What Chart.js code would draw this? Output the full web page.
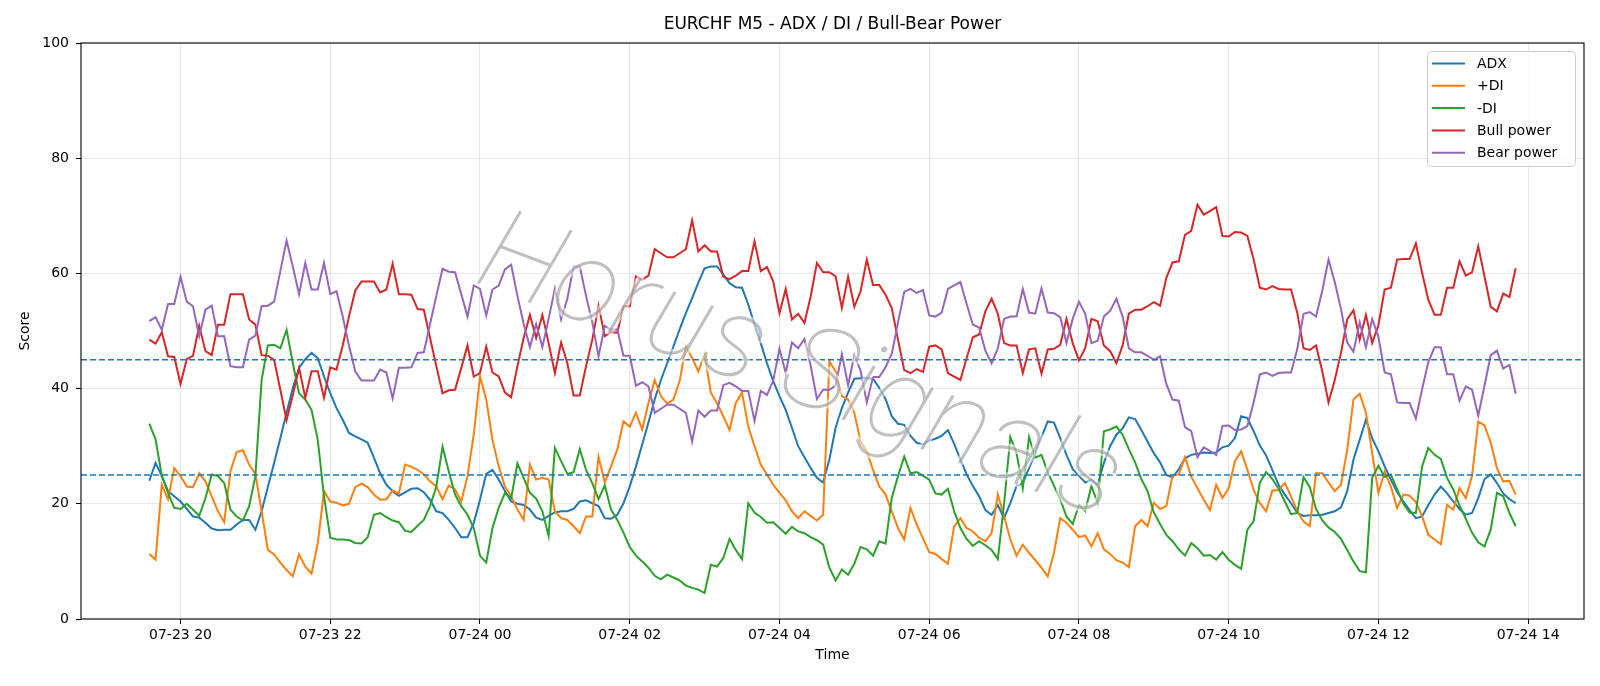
<!DOCTYPE html>
<html>
<head>
<meta charset="utf-8">
<title>EURCHF M5 - ADX / DI / Bull-Bear Power</title>
<script src="https://cdn.jsdelivr.net/npm/chart.js@4.4.1/dist/chart.umd.min.js"></script>
<style>
  html, body { margin: 0; padding: 0; background: #fff; }
  #wrap { width: 1600px; height: 686px; }
</style>
</head>
<body>
<div id="wrap"><canvas id="chart" width="1600" height="686"></canvas></div>
<script>
// 5-minute bars, 07-23 19:35 -> 07-24 13:50 (x in minutes from 07-23 20:00)
const startMinute = -25;
const stepMinutes = 5;

const tickMinutes = [0, 120, 240, 360, 480, 600, 720, 840, 960, 1080];
const tickLabels = ['07-23 20', '07-23 22', '07-24 00', '07-24 02', '07-24 04',
                    '07-24 06', '07-24 08', '07-24 10', '07-24 12', '07-24 14'];

const refLevels = [25, 45];

const adx = [
  24.0, 27.1, 24.8, 22.2, 21.3, 20.4, 19.1, 17.8, 17.6, 16.7, 15.7, 15.4, 15.5, 15.5, 16.4, 17.2, 17.2, 15.5, 18.7, 22.9, 27.1, 31.4, 35.8, 40.1, 43.6, 45.1, 46.2, 45.3, 42.1, 39.2, 36.6,
  34.6, 32.3, 31.7, 31.2, 30.6, 28.0, 25.3, 23.3, 22.2, 21.4, 22.0, 22.6, 22.7, 22.0, 20.7, 18.7, 18.4, 17.2, 15.8, 14.2, 14.2, 16.7, 20.7, 25.2, 25.9, 24.2, 22.2, 20.4, 20.0, 19.8, 19.0, 17.6,
  17.2, 17.9, 18.5, 18.7, 18.7, 19.1, 20.4, 20.6, 20.1, 19.6, 17.5, 17.4, 18.1, 20.1, 23.0, 26.5, 30.3, 34.1, 38.1, 41.5, 44.4, 47.3, 50.3, 53.1, 55.7, 58.4, 60.9, 61.2, 61.2, 59.8, 58.3,
  57.6, 57.5, 54.6, 51.1, 47.9, 44.4, 41.3, 38.7, 36.3, 33.2, 30.0, 28.1, 26.2, 24.5, 23.7, 27.7, 33.2, 36.6, 39.3, 41.7, 41.8, 41.8, 41.7, 40.1, 38.2, 35.2, 33.9, 33.7, 31.8, 30.6, 30.3,
  31.0, 31.3, 31.8, 32.8, 30.4, 27.7, 25.1, 23.1, 21.3, 18.9, 18.1, 19.8, 17.5, 20.1, 23.1, 23.6, 26.2, 28.8, 31.6, 34.3, 34.1, 31.4, 28.5, 26.0, 24.9, 23.7, 24.2, 23.3, 27.1, 30.0, 32.0, 33.1,
  35.0, 34.7, 32.8, 30.8, 28.8, 27.2, 25.0, 24.6, 26.0, 27.9, 28.5, 28.7, 28.9, 28.8, 28.9, 29.8, 30.1, 31.4, 35.2, 34.9, 32.6, 30.1, 28.4, 25.9, 23.3, 21.6, 20.1, 18.4, 17.9, 18.0, 18.0,
  18.1, 18.4, 18.7, 19.4, 22.2, 27.7, 31.1, 34.6, 31.4, 29.1, 26.5, 24.2, 22.0, 20.4, 18.9, 17.5, 17.8, 19.8, 21.6, 23.0, 21.8, 20.4, 19.1, 18.1, 18.4, 21.0, 24.3, 25.1, 23.6, 21.8, 20.8, 20.1
];

const plusDI = [
  11.3, 10.3, 23.3, 20.8, 26.2, 24.8, 23.0, 22.9, 25.3, 23.9, 21.3, 18.7, 16.8, 25.6, 29.0, 29.3, 26.8, 25.2, 18.7, 12.0, 11.2, 9.8, 8.5, 7.4, 11.2, 9.1, 7.9, 13.2, 22.2, 20.4, 20.2,
  19.7, 20.0, 22.9, 23.5, 22.9, 21.6, 20.7, 20.8, 22.3, 21.8, 26.8, 26.4, 25.9, 25.1, 23.9, 23.0, 20.8, 23.2, 22.5, 20.4, 24.8, 32.0, 42.1, 38.1, 31.1, 26.5, 23.0, 21.3, 19.0, 17.2, 26.8, 24.2,
  24.5, 24.2, 18.7, 17.5, 17.2, 16.1, 14.9, 17.8, 17.8, 28.2, 23.7, 26.5, 29.4, 34.3, 33.4, 35.8, 32.9, 37.5, 41.5, 38.7, 37.4, 38.1, 41.3, 47.3, 45.3, 43.0, 45.9, 39.3, 37.4, 35.2, 32.8,
  37.5, 39.3, 33.4, 30.0, 26.8, 25.1, 23.3, 21.9, 20.6, 18.7, 17.5, 18.7, 17.9, 17.1, 18.1, 44.7, 43.0, 38.7, 38.1, 35.8, 30.8, 29.1, 25.9, 23.0, 21.6, 18.7, 15.8, 13.8, 19.3, 16.4, 14.0,
  11.6, 11.3, 10.4, 9.6, 16.1, 17.5, 15.8, 15.2, 14.1, 13.5, 14.9, 21.6, 17.9, 13.8, 11.0, 12.9, 11.5, 10.2, 8.9, 7.4, 11.5, 17.5, 16.7, 15.5, 14.2, 14.5, 12.6, 14.9, 12.1, 11.3, 10.2, 9.8,
  9.0, 16.1, 17.2, 16.1, 20.2, 19.1, 19.6, 24.9, 25.1, 28.1, 24.7, 22.7, 20.7, 18.9, 23.3, 21.0, 22.7, 27.4, 29.1, 25.9, 22.4, 20.1, 18.7, 22.3, 22.4, 23.6, 21.3, 18.7, 16.9, 16.1, 25.3,
  25.3, 23.7, 22.2, 23.3, 29.4, 38.1, 39.1, 35.8, 28.8, 21.9, 25.6, 23.0, 19.3, 21.6, 21.4, 20.3, 17.8, 14.6, 13.8, 13.0, 19.8, 19.0, 22.7, 21.0, 24.8, 34.3, 33.6, 30.6, 26.2, 23.9, 24.0, 21.6
];

const minusDI = [
  33.9, 31.2, 24.9, 21.9, 19.3, 19.1, 20.0, 19.0, 17.9, 21.0, 25.1, 24.8, 23.6, 19.0, 17.8, 17.1, 19.6, 24.8, 41.5, 47.5, 47.6, 47.0, 50.2, 44.4, 39.2, 38.1, 36.3, 31.1, 21.3, 14.1, 13.8,
  13.8, 13.7, 13.2, 13.1, 14.2, 18.1, 18.4, 17.7, 17.1, 16.8, 15.3, 15.1, 16.2, 17.2, 19.6, 23.0, 29.9, 25.6, 21.6, 19.6, 18.1, 15.8, 11.0, 9.8, 15.8, 19.3, 21.9, 21.0, 27.0, 24.5, 21.9, 20.9,
  18.7, 14.4, 29.7, 27.4, 25.2, 25.5, 29.5, 25.9, 23.6, 20.8, 23.2, 19.0, 17.2, 15.0, 12.5, 11.0, 10.0, 8.9, 7.5, 6.9, 7.7, 7.2, 6.7, 5.8, 5.4, 5.1, 4.5, 9.4, 9.1, 10.6, 13.9,
  12.0, 10.4, 20.1, 18.5, 17.7, 16.7, 16.8, 15.8, 14.8, 16.0, 15.2, 14.9, 14.2, 13.7, 12.9, 8.9, 6.7, 8.6, 7.7, 9.6, 12.5, 12.1, 11.0, 13.5, 13.1, 21.0, 24.8, 28.2, 25.3, 25.5, 24.9,
  24.2, 21.8, 21.6, 22.6, 18.7, 15.8, 13.9, 12.7, 13.5, 12.8, 12.0, 10.4, 20.0, 31.6, 28.8, 22.7, 31.6, 28.0, 28.5, 25.5, 23.1, 20.8, 17.8, 16.5, 19.8, 18.7, 23.1, 20.1, 32.6, 32.9, 33.4, 32.0,
  29.5, 27.2, 24.3, 22.2, 18.5, 16.5, 14.6, 13.5, 12.1, 11.0, 13.2, 12.3, 11.0, 11.1, 10.3, 11.6, 10.3, 9.4, 8.7, 15.5, 17.0, 23.7, 25.5, 24.3, 22.6, 20.4, 18.2, 18.4, 24.6, 22.9, 19.1,
  17.1, 15.9, 15.1, 13.9, 12.0, 10.0, 8.3, 8.1, 24.5, 26.6, 24.7, 25.1, 22.5, 20.0, 18.5, 18.4, 26.5, 29.7, 28.5, 27.8, 24.5, 22.5, 19.7, 17.4, 15.0, 13.3, 12.6, 15.5, 21.9, 21.3, 18.4, 16.1
];

const bullPower = [
  48.5, 47.8, 49.8, 45.6, 45.5, 40.8, 45.1, 45.7, 50.9, 46.5, 45.8, 51.1, 51.1, 56.4, 56.4, 56.4, 52.0, 51.1, 45.8, 45.7, 45.0, 39.8, 34.5, 38.9, 43.6, 38.4, 43.0, 43.0, 38.4, 43.7, 43.3,
  47.5, 52.5, 57.0, 58.6, 58.6, 58.6, 56.7, 57.2, 61.7, 56.4, 56.4, 56.3, 53.8, 53.7, 48.8, 43.9, 39.2, 39.7, 39.8, 43.6, 47.5, 42.1, 42.7, 47.3, 42.8, 42.1, 39.3, 38.5, 43.9, 48.8, 52.8, 48.8,
  52.8, 47.9, 42.7, 48.0, 44.4, 38.8, 38.8, 43.9, 48.5, 54.4, 49.1, 49.8, 49.7, 54.3, 54.3, 59.5, 58.9, 59.6, 64.2, 63.5, 62.8, 62.8, 63.5, 64.2, 69.2, 63.8, 64.9, 63.8, 63.8, 59.4, 59.0,
  59.6, 60.4, 60.4, 65.6, 60.4, 61.1, 58.6, 53.1, 57.3, 52.0, 53.0, 51.4, 56.0, 61.8, 60.2, 60.2, 59.5, 54.0, 59.4, 54.2, 56.9, 62.4, 58.0, 58.0, 56.3, 54.0, 48.5, 43.2, 42.7, 43.4, 42.9,
  47.3, 47.5, 46.8, 42.7, 42.1, 41.5, 45.3, 48.9, 49.4, 53.4, 55.6, 53.0, 47.9, 47.5, 47.5, 42.7, 46.8, 47.0, 42.6, 46.8, 46.9, 47.6, 52.1, 47.9, 44.9, 47.0, 52.1, 51.7, 47.5, 46.5, 44.4, 47.5,
  53.0, 53.7, 53.7, 54.3, 55.0, 54.4, 59.2, 61.9, 62.1, 66.7, 67.4, 71.9, 70.2, 70.8, 71.5, 66.5, 66.4, 67.2, 67.1, 66.5, 62.4, 57.5, 57.2, 57.8, 57.3, 57.2, 57.2, 53.1, 47.0, 46.7, 47.5,
  43.0, 37.6, 41.5, 46.2, 52.0, 53.6, 48.5, 52.8, 47.9, 51.0, 57.2, 57.5, 62.4, 62.5, 62.5, 65.2, 60.1, 55.4, 52.8, 52.8, 57.5, 57.5, 62.1, 59.6, 60.2, 64.7, 59.5, 54.2, 53.4, 56.5, 55.9, 60.9
];

const bearPower = [
  51.7, 52.4, 50.2, 54.7, 54.7, 59.4, 55.1, 54.3, 49.1, 53.7, 54.4, 49.1, 49.1, 43.9, 43.7, 43.7, 48.5, 49.2, 54.3, 54.4, 55.1, 60.4, 65.7, 61.2, 56.4, 61.8, 57.2, 57.2, 61.8, 56.4, 56.9,
  52.5, 47.5, 43.0, 41.4, 41.4, 41.4, 43.3, 42.8, 38.3, 43.6, 43.6, 43.7, 46.2, 46.3, 51.2, 56.1, 60.8, 60.3, 60.2, 56.4, 52.5, 57.9, 57.3, 52.7, 57.2, 57.9, 60.7, 61.5, 56.1, 51.2, 47.2, 51.2,
  47.2, 52.1, 57.3, 52.0, 55.6, 61.2, 61.2, 56.1, 51.5, 45.6, 50.9, 50.2, 50.3, 45.7, 45.7, 40.5, 41.1, 40.4, 35.8, 36.5, 37.2, 37.2, 36.5, 35.8, 30.8, 36.2, 35.1, 36.2, 36.2, 40.6, 41.0,
  40.4, 39.6, 39.6, 34.4, 39.6, 38.9, 41.4, 46.9, 42.7, 48.0, 47.0, 48.6, 44.0, 38.2, 39.8, 39.8, 40.5, 46.0, 40.6, 45.8, 43.1, 37.6, 42.0, 42.0, 43.7, 46.0, 51.5, 56.8, 57.3, 56.6, 57.1,
  52.7, 52.5, 53.2, 57.3, 57.9, 58.5, 54.7, 51.1, 50.6, 46.6, 44.4, 47.0, 52.1, 52.5, 52.5, 57.3, 53.2, 53.0, 57.4, 53.2, 53.1, 52.4, 47.9, 52.1, 55.1, 53.0, 47.9, 48.3, 52.5, 53.5, 55.6, 52.5,
  47.0, 46.3, 46.3, 45.7, 45.0, 45.6, 40.8, 38.1, 37.9, 33.3, 32.6, 28.1, 29.8, 29.2, 28.5, 33.5, 33.6, 32.8, 32.9, 33.5, 37.6, 42.5, 42.8, 42.2, 42.7, 42.8, 42.8, 46.9, 53.0, 53.3, 52.5,
  57.0, 62.4, 58.5, 53.8, 48.0, 46.4, 51.5, 47.2, 52.1, 49.0, 42.8, 42.5, 37.6, 37.5, 37.5, 34.8, 39.9, 44.6, 47.2, 47.2, 42.5, 42.5, 37.9, 40.4, 39.8, 35.3, 40.5, 45.8, 46.6, 43.5, 44.1, 39.1
];

const seriesNames = ['ADX', '+DI', '-DI', 'Bull power', 'Bear power'];
const seriesColors = ['#1f77b4', '#ff7f0e', '#2ca02c', '#d62728', '#9467bd'];
const seriesValues = [adx, plusDI, minusDI, bullPower, bearPower];

const times = adx.map((_, i) => startMinute + i * stepMinutes);
// matplotlib-style 5% margins on the time axis
const span = times[times.length - 1] - times[0];
const xMin = times[0] - span * 0.05;
const xMax = times[times.length - 1] + span * 0.05;

const FONT = 'DejaVu Sans';
Chart.defaults.font.family = FONT;

const datasets = seriesValues.map((vals, k) => ({
  label: seriesNames[k],
  data: vals.map((v, i) => ({ x: times[i], y: v })),
  borderColor: seriesColors[k],
  backgroundColor: seriesColors[k],
  borderWidth: 2,
  pointRadius: 0,
  tension: 0,
  fill: false,
  order: 10 - k
}));

refLevels.forEach((lvl, k) => {
  datasets.push({
    label: 'ref' + lvl,
    data: [{ x: xMin, y: lvl }, { x: xMax, y: lvl }],
    borderColor: '#1f77b4',
    borderWidth: 1.5,
    borderDash: [6, 3],
    pointRadius: 0,
    fill: false,
    order: 1 - k
  });
});

const decorations = {
  id: 'decorations',
  afterDatasetsDraw(chart) {
    const { ctx, chartArea: a } = chart;
    // watermark (thin grey italic text with a soft white halo)
    ctx.save();
    ctx.beginPath();
    ctx.rect(a.left, a.top, a.right - a.left, a.bottom - a.top);
    ctx.clip();
    ctx.translate(803, 360);
    ctx.rotate(20.5 * Math.PI / 180);
    ctx.font = 'italic 100 116px Roboto';
    ctx.textAlign = 'center';
    ctx.textBaseline = 'alphabetic';
    ctx.strokeStyle = 'rgba(255,255,255,0.55)';
    ctx.lineWidth = 5;
    ctx.lineJoin = 'round';
    ctx.strokeText('Horus Signals', 0, 42);
    ctx.fillStyle = 'rgba(140,140,140,0.55)';
    ctx.fillText('Horus Signals', 0, 42);
    ctx.restore();

    // axes frame
    ctx.save();
    ctx.strokeStyle = '#000';
    ctx.lineWidth = 1.1;
    ctx.strokeRect(a.left, a.top, a.right - a.left, a.bottom - a.top);
    ctx.restore();
  },
  afterDraw(chart) {
    const { ctx, chartArea: a } = chart;
    ctx.save();
    // title
    ctx.fillStyle = '#000';
    ctx.font = '17px "' + FONT + '"';
    ctx.textAlign = 'center';
    ctx.textBaseline = 'middle';
    ctx.fillText('EURCHF M5 - ADX / DI / Bull-Bear Power', (a.left + a.right) / 2, 25);

    // legend
    const w = 148, h = 115;
    const x = a.right - 9 - w, y = a.top + 8;
    ctx.beginPath();
    ctx.roundRect(x + 0.5, y + 0.5, w, h, 4);
    ctx.fillStyle = 'rgba(255,255,255,0.8)';
    ctx.fill();
    ctx.strokeStyle = '#cccccc';
    ctx.lineWidth = 1;
    ctx.stroke();
    ctx.font = '14px "' + FONT + '"';
    ctx.textAlign = 'left';
    seriesNames.forEach((name, i) => {
      const yy = y + 12.5 + i * 22.3;
      ctx.strokeStyle = seriesColors[i];
      ctx.lineWidth = 2;
      ctx.beginPath();
      ctx.moveTo(x + 5, yy);
      ctx.lineTo(x + 38, yy);
      ctx.stroke();
      ctx.fillStyle = '#000';
      ctx.fillText(name, x + 50, yy + 1);
    });
    ctx.restore();
  }
};

const gridColor = 'rgba(176,176,176,0.3)';

new Chart(document.getElementById('chart').getContext('2d'), {
  type: 'line',
  data: { datasets },
  options: {
    responsive: false,
    animation: false,
    devicePixelRatio: 1,
    layout: { padding: { top: 43, right: 16, bottom: 0, left: 0 } },
    plugins: {
      legend: { display: false },
      title: { display: false },
      tooltip: { enabled: false }
    },
    scales: {
      x: {
        type: 'linear',
        min: xMin,
        max: xMax,
        afterBuildTicks: s => { s.ticks = tickMinutes.map(v => ({ value: v })); },
        afterFit: s => { s.height = 67; },
        ticks: {
          callback: (v, i) => tickLabels[i],
          color: '#000',
          font: { size: 14 },
          padding: 3,
          maxRotation: 0,
          autoSkip: false
        },
        grid: { color: gridColor, tickColor: '#000', tickLength: 5, lineWidth: 1 },
        border: { display: false },
        title: { display: true, text: 'Time', color: '#000', font: { size: 14 }, padding: { top: 0, bottom: 22 } }
      },
      y: {
        min: 0,
        max: 100,
        afterFit: s => { s.width = 81; },
        ticks: { stepSize: 20, color: '#000', font: { size: 14 }, padding: 7 },
        grid: { color: gridColor, tickColor: '#000', tickLength: 5, lineWidth: 1 },
        border: { display: false },
        title: { display: true, text: 'Score', color: '#000', font: { size: 14 }, padding: { top: 17, bottom: 0 } }
      }
    }
  },
  plugins: [decorations]
});
</script>
</body>
</html>
